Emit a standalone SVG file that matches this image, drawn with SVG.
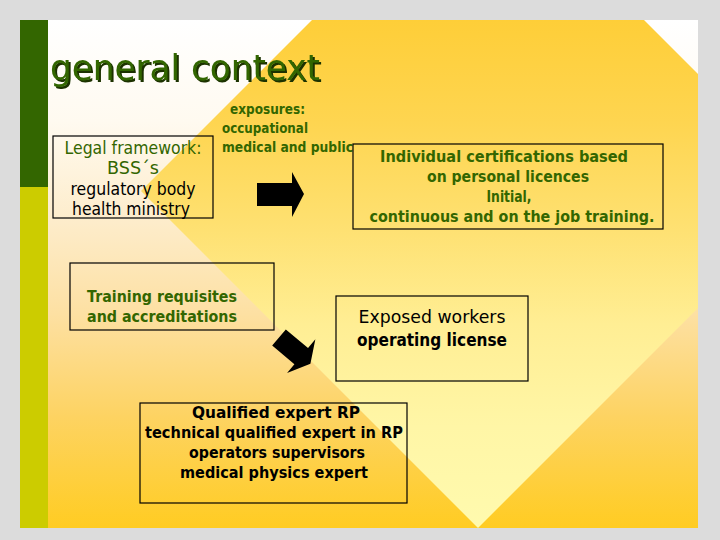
<svg xmlns="http://www.w3.org/2000/svg" width="720" height="540" viewBox="0 0 720 540">
<style>
.box{fill:none;stroke:#000;stroke-width:1.2}
.t{font-family:"DejaVu Sans","Liberation Sans",sans-serif;}
.g{fill:#336600}
.k{fill:#000}
.b{font-weight:bold}
.c{text-anchor:middle}
.arrow{fill:#000}
</style>
<defs>
<linearGradient id="outer" gradientUnits="userSpaceOnUse" x1="0" y1="20" x2="0" y2="528">
<stop offset="0" stop-color="#ffffff"/>
<stop offset="0.2" stop-color="#fffaf0"/>
<stop offset="0.4" stop-color="#fdecca"/>
<stop offset="0.58" stop-color="#fde0a2"/>
<stop offset="0.78" stop-color="#fdd362"/>
<stop offset="1" stop-color="#ffcc22"/>
</linearGradient>
<linearGradient id="inner" gradientUnits="userSpaceOnUse" x1="0" y1="20" x2="0" y2="528">
<stop offset="0" stop-color="#fece38"/>
<stop offset="0.2" stop-color="#fed550"/>
<stop offset="0.4" stop-color="#fee070"/>
<stop offset="0.6" stop-color="#ffee94"/>
<stop offset="0.8" stop-color="#fff6a6"/>
<stop offset="1" stop-color="#fffaae"/>
</linearGradient>
<clipPath id="slide"><rect x="20" y="20" width="678" height="508"/></clipPath>
<filter id="shadow" x="-5%" y="-20%" width="115%" height="150%">
<feDropShadow dx="2" dy="2" stdDeviation="0.4" flood-color="#1c3300" flood-opacity="1"/>
</filter>
</defs>
<rect x="0" y="0" width="720" height="540" fill="#dcdcdc"/>
<g id="background" clip-path="url(#slide)">
<rect x="20" y="20" width="678" height="508" fill="url(#outer)"/>
<polygon points="141,191 478,-146 815,191 478,528" fill="url(#inner)"/>
</g>
<rect x="20" y="20" width="28" height="167" fill="#336600"/>
<rect x="20" y="187" width="28" height="341" fill="#cccc00"/>
<g id="title">
<text x="50" y="80" class="t" font-size="36" fill="#336600" filter="url(#shadow)" textLength="270" lengthAdjust="spacingAndGlyphs">general context</text>
</g>
<g id="legal-framework">
<rect class="box" x="53" y="136" width="160" height="82"/>
<text class="t c g" font-size="17" x="133" y="154" textLength="137" lengthAdjust="spacingAndGlyphs">Legal framework:</text>
<text class="t c g" font-size="17" x="133" y="174" textLength="52" lengthAdjust="spacingAndGlyphs">BSS´s</text>
<text class="t c k" font-size="17" x="133" y="195" textLength="125" lengthAdjust="spacingAndGlyphs">regulatory body</text>
<text class="t c k" font-size="17" x="131" y="215" textLength="118" lengthAdjust="spacingAndGlyphs">health ministry</text>
</g>
<g id="exposures">
<text class="t b g" font-size="14" x="230" y="114" textLength="75" lengthAdjust="spacingAndGlyphs">exposures:</text>
<text class="t b g" font-size="14" x="222" y="133" textLength="86" lengthAdjust="spacingAndGlyphs">occupational</text>
<text class="t b g" font-size="14" x="222" y="152" textLength="131" lengthAdjust="spacingAndGlyphs">medical and public</text>
</g>
<g id="certifications">
<rect class="box" x="353" y="144" width="310" height="85"/>
<text class="t c b g" font-size="15" x="504" y="162" textLength="248" lengthAdjust="spacingAndGlyphs">Individual certifications based</text>
<text class="t c b g" font-size="15" x="508" y="182" textLength="162" lengthAdjust="spacingAndGlyphs">on personal licences</text>
<text class="t c b g" font-size="15" x="509" y="202" textLength="45" lengthAdjust="spacingAndGlyphs">Initial,</text>
<text class="t c b g" font-size="15" x="512" y="222" textLength="285" lengthAdjust="spacingAndGlyphs">continuous and on the job training.</text>
</g>
<g id="training">
<rect class="box" x="70" y="263" width="204" height="67"/>
<text class="t b g" font-size="15" x="87" y="302" textLength="150" lengthAdjust="spacingAndGlyphs">Training requisites</text>
<text class="t b g" font-size="15" x="87" y="322" textLength="150" lengthAdjust="spacingAndGlyphs">and accreditations</text>
</g>
<g id="exposed-workers">
<rect class="box" x="336" y="296" width="192" height="85"/>
<text class="t c k" font-size="18" x="432" y="323" textLength="147" lengthAdjust="spacingAndGlyphs">Exposed workers</text>
<text class="t c b k" font-size="18" x="432" y="346" textLength="150" lengthAdjust="spacingAndGlyphs">operating license</text>
</g>
<g id="qualified">
<rect class="box" x="140" y="403" width="267" height="100"/>
<text class="t c b k" font-size="16" x="276" y="418" textLength="168" lengthAdjust="spacingAndGlyphs">Qualified expert RP</text>
<text class="t c b k" font-size="16" x="274" y="438" textLength="258" lengthAdjust="spacingAndGlyphs">technical qualified expert in RP</text>
<text class="t c b k" font-size="16" x="277" y="458" textLength="176" lengthAdjust="spacingAndGlyphs">operators supervisors</text>
<text class="t c b k" font-size="16" x="274" y="478" textLength="188" lengthAdjust="spacingAndGlyphs">medical physics expert</text>
</g>
<g id="connectors">
<path class="arrow" d="M257,183 H292 V172 L304,194 L292,217 V206 H257 Z"/>
<path class="arrow" transform="translate(279,337.5) rotate(40)" d="M0,-10.6 H29 V-22 L41,0 L29,22 V10.6 H0 Z"/>
</g>
</svg>
